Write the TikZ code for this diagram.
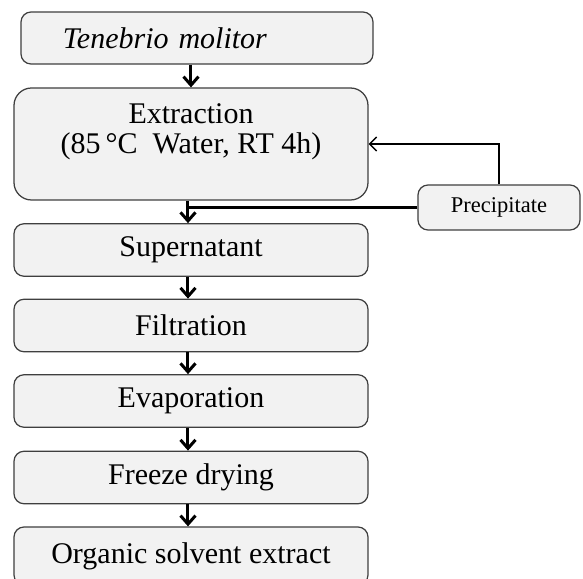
\documentclass[tikz,border=0pt]{standalone}
\usepackage{fontspec}
\setmainfont{Liberation Serif}
\usetikzlibrary{arrows.meta}

\definecolor{boxfill}{HTML}{F2F2F2}
\definecolor{boxline}{HTML}{3F3F3F}

\tikzset{
    stepbox/.style={draw=boxline, fill=boxfill, line width=0.5pt, rounded corners=4pt,
        minimum width=141.6pt, minimum height=21pt, inner sep=0pt, align=center,
        font=\fontsize{12}{12}\selectfont},
    flow/.style={line width=1.2pt, -{Straight Barb[length=3.4pt, width=6pt, line width=1.2pt]}},
    back/.style={line width=0.6pt, -{Straight Barb[length=2.8pt, width=5.6pt, line width=0.6pt]}}
}

\begin{document}
\begin{tikzpicture}[x=0.4pt, y=-0.4pt]
    \clip (0,0) rectangle (583,579);

    % Main steps
    \node[stepbox, minimum width=140.8pt, minimum height=20.8pt, text width=107.2pt,
          inner xsep=16.8pt, align=left] (worm) at (197,38) {\textit{Tenebrio molitor}};
    \node[stepbox, minimum height=44.8pt, rounded corners=7pt] (extract) at (191,144)
        {Extraction\\(85\,°C\ \ Water, RT 4h)\\\mbox{}};
    \node[stepbox] (super) at (191,250) {Supernatant};
    \node[stepbox] (filter) at (191,325.5) {Filtration};
    \node[stepbox] (evap) at (191,401) {Evaporation};
    \node[stepbox] (freeze) at (191,477.5) {Freeze drying};
    \node[stepbox, minimum height=23.2pt] (organic) at (191,556) {Organic solvent extract};

    % Side step
    \node[stepbox, minimum width=64.8pt, minimum height=18pt,
          font=\fontsize{9}{9}\selectfont] (precip) at (499,207.5) {Precipitate};

    % Arrows
    \coordinate (spine) at (188,0);
    \draw[flow] (worm.south -| extract.north) -- (extract.north);
    \draw[flow] (extract.south -| spine) -- (super.north -| spine);
    \draw[line width=1.1pt] (precip.west) -- (precip.west -| spine);
    \draw[back] (precip.north) |- (extract.east);
    \draw[flow] (super.south -| spine) -- (filter.north -| spine);
    \draw[flow] (filter.south -| spine) -- (evap.north -| spine);
    \draw[flow] (evap.south -| spine) -- (freeze.north -| spine);
    \draw[flow] (freeze.south -| spine) -- (organic.north -| spine);
\end{tikzpicture}
\end{document}
